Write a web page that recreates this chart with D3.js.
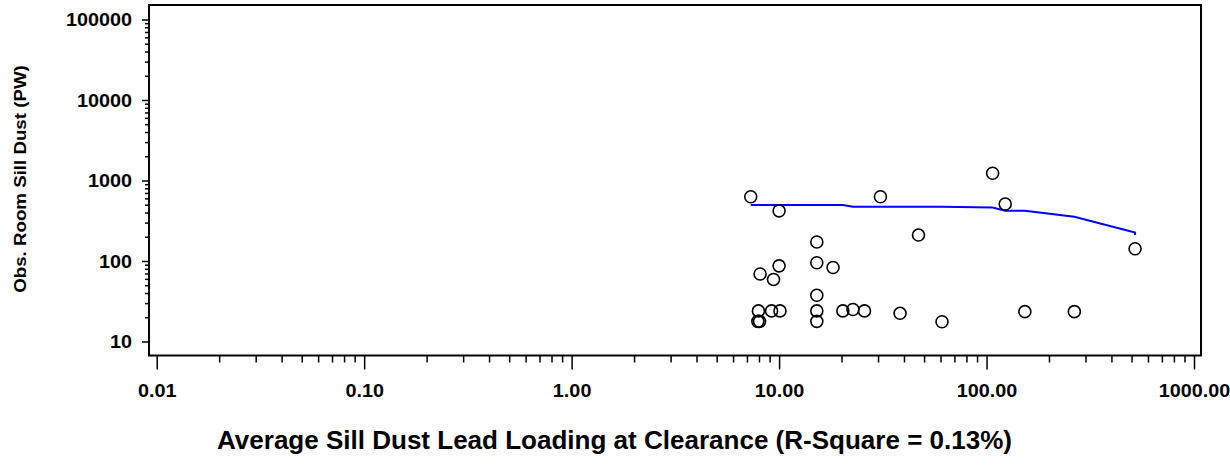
<!DOCTYPE html>
<html>
<head>
<meta charset="utf-8">
<script src="https://cdn.jsdelivr.net/npm/d3@7"></script>
<style>
  body { margin: 0; background: #fff; }
  text { font-family: "Liberation Sans", Arial, sans-serif; font-weight: bold; fill: #000; }
</style>
</head>
<body>
<div id="chart"></div>
<script>
// Observed points (x = average sill dust lead loading, y = observed room sill dust)
const obsX = [7.3, 10.0, 30.8, 107, 123, 47, 15.2, 15.2, 10.0, 8.1, 9.4, 18.2, 15.2,
              7.95, 9.2, 10.1, 15.2, 20.3, 22.7, 25.8, 38.3, 61, 7.9, 8.05, 15.2, 153, 265, 520];
const obsY = [629, 420, 629, 1229, 510, 210, 172, 95, 87, 69, 59, 83, 37.5,
              24, 24, 24, 24, 24, 25, 24, 22.4, 17.6, 17.8, 17.8, 17.8, 23.5, 23.5, 142];

// Fitted curve
const fitX = [7.3, 20.3, 22.7, 61, 107, 123, 153, 265, 520, 520];
const fitY = [496, 496, 473, 471, 462, 422, 422, 355, 226, 210];

// Tick labels
const xTicks = [0.01, 0.1, 1, 10, 100, 1000];
const xTickLabels = ["0.01", "0.10", "1.00", "10.00", "100.00", "1000.00"];
const yTicks = [10, 100, 1000, 10000, 100000];
const yTickLabels = ["10", "100", "1000", "10000", "100000"];

const W = 1230, H = 470;
const frame = { left: 149, top: 5, right: 1201, bottom: 355.5 };

const svg = d3.select("#chart")
  .append("svg")
    .attr("width", W)
    .attr("height", H);

// Scales
const x = d3.scaleLog().domain([0.01, 1000]).range([156.7, 1194]);
const y = d3.scaleLog().domain([10, 100000]).range([341.5, 19.5]);

// minor ticks 2..9 within each decade
function minors(lo, hi) {
  const out = [];
  for (let d = lo; d < hi; d *= 10) {
    for (let k = 2; k <= 9; k++) out.push(d * k);
  }
  return out;
}

// stretch text horizontally a bit, like the original output
function stretch(sel, ratio) {
  sel.each(function() {
    const len = this.getComputedTextLength();
    d3.select(this)
      .attr("textLength", len * ratio)
      .attr("lengthAdjust", "spacingAndGlyphs");
  });
}

// Y axis: major + minor ticks
const yMinor = svg.append("g")
    .attr("transform", `translate(${frame.left},0)`)
    .call(d3.axisLeft(y).tickValues(minors(10, 100000)).tickSize(4).tickFormat(""));
const yMajor = svg.append("g")
    .attr("transform", `translate(${frame.left},0)`)
    .call(d3.axisLeft(y).tickValues(yTicks).tickSize(7).tickPadding(10)
      .tickFormat((d, i) => yTickLabels[i]));
[yMinor, yMajor].forEach(g => {
  g.select(".domain").remove();
  g.selectAll("line").attr("stroke", "#000").attr("stroke-width", 1.5);
});
yMajor.selectAll("text")
    .attr("font-size", 18)
    .attr("dy", "0.36em")
    .call(stretch, 1.1);

// X axis: major + minor ticks
const xMinor = svg.append("g")
    .attr("transform", `translate(0,${frame.bottom})`)
    .call(d3.axisBottom(x).tickValues(minors(0.01, 1000)).tickSize(7).tickFormat(""));
const xMajor = svg.append("g")
    .attr("transform", `translate(0,${frame.bottom})`)
    .call(d3.axisBottom(x).tickValues(xTicks).tickSize(14).tickPadding(15)
      .tickFormat((d, i) => xTickLabels[i]));
[xMinor, xMajor].forEach(g => {
  g.select(".domain").remove();
  g.selectAll("line").attr("stroke", "#000").attr("stroke-width", 1.5);
});
xMajor.selectAll("text")
    .attr("font-size", 18)
    .call(stretch, 1.1);

// Frame
svg.append("rect")
    .attr("x", frame.left)
    .attr("y", frame.top)
    .attr("width", frame.right - frame.left)
    .attr("height", frame.bottom - frame.top)
    .attr("fill", "none")
    .attr("stroke", "#000")
    .attr("stroke-width", 2);

// Fitted line
const fitData = fitX.map((v, i) => [v, fitY[i]]);
svg.append("path")
    .datum(fitData)
    .attr("fill", "none")
    .attr("stroke", "#0000ff")
    .attr("stroke-width", 2)
    .attr("d", d3.line().x(d => x(d[0])).y(d => y(d[1])));

// Points
const pts = obsX.map((v, i) => ({ x: v, y: obsY[i] }));
svg.append("g")
  .selectAll("circle")
  .data(pts)
  .join("circle")
    .attr("cx", d => x(d.x))
    .attr("cy", d => y(d.y))
    .attr("r", 6)
    .attr("fill", "none")
    .attr("stroke", "#000")
    .attr("stroke-width", 1.6);

// Axis titles
svg.append("text")
    .attr("transform", "translate(26,179) rotate(-90)")
    .attr("text-anchor", "middle")
    .attr("font-size", 17)
    .text("Obs. Room Sill Dust (PW)")
    .call(stretch, 1.1);

svg.append("text")
    .attr("x", 217)
    .attr("y", 449)
    .attr("font-size", 25)
    .attr("textLength", 795)
    .attr("lengthAdjust", "spacingAndGlyphs")
    .text("Average Sill Dust Lead Loading at Clearance (R-Square = 0.13%)");
</script>
</body>
</html>
